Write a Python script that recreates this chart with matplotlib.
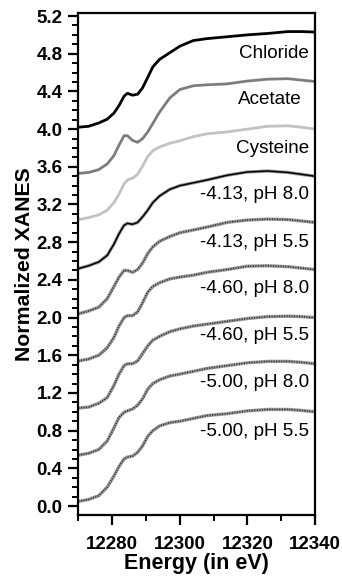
import matplotlib
matplotlib.use("Agg")
import matplotlib.pyplot as plt
from matplotlib.ticker import MultipleLocator

plt.rcParams["font.family"] = ["Liberation Sans", "DejaVu Sans"]

# Energia (eV) comun a todos los espectros
energia = [12270, 12273, 12276, 12278.5, 12280.5, 12282, 12283.5, 12284.5,
           12286, 12287.5, 12289, 12290.5, 12292, 12294, 12297, 12300,
           12304, 12308, 12314, 12320, 12326, 12332, 12336, 12340]

# Referencias (XANES normalizado, desplazado verticalmente)
chloride = [4.02, 4.03, 4.065, 4.105, 4.17, 4.25, 4.35, 4.38,
            4.36, 4.37, 4.44, 4.55, 4.66, 4.74, 4.81, 4.88,
            4.94, 4.96, 4.98, 5.00, 5.015, 5.035, 5.035, 5.03]
acetate = [3.53, 3.54, 3.57, 3.63, 3.72, 3.83, 3.93, 3.93,
           3.88, 3.86, 3.90, 3.97, 4.06, 4.18, 4.33, 4.42,
           4.46, 4.47, 4.48, 4.51, 4.53, 4.535, 4.52, 4.505]
cysteine = [3.04, 3.06, 3.09, 3.14, 3.22, 3.31, 3.42, 3.46,
            3.48, 3.52, 3.61, 3.71, 3.77, 3.81, 3.85, 3.875,
            3.92, 3.95, 3.97, 4.00, 4.03, 4.035, 4.02, 4.00]

# Muestras
m413_ph80 = [2.52, 2.55, 2.59, 2.66, 2.78, 2.89, 2.98, 3.00,
             2.99, 3.01, 3.07, 3.14, 3.22, 3.29, 3.36, 3.40,
             3.43, 3.46, 3.51, 3.545, 3.555, 3.54, 3.52, 3.50]
m413_ph55 = [2.04, 2.07, 2.11, 2.20, 2.33, 2.43, 2.50, 2.50,
             2.48, 2.51, 2.58, 2.68, 2.75, 2.81, 2.86, 2.90,
             2.93, 2.96, 3.01, 3.035, 3.045, 3.04, 3.025, 3.01]
m460_ph80 = [1.54, 1.56, 1.60, 1.68, 1.79, 1.91, 2.00, 2.02,
             2.02, 2.06, 2.16, 2.27, 2.33, 2.37, 2.41, 2.43,
             2.45, 2.48, 2.51, 2.545, 2.55, 2.54, 2.525, 2.51]
m460_ph55 = [1.04, 1.05, 1.09, 1.15, 1.28, 1.40, 1.49, 1.51,
             1.51, 1.54, 1.62, 1.70, 1.76, 1.80, 1.85, 1.88,
             1.91, 1.93, 1.96, 1.99, 2.01, 2.015, 2.01, 2.00]
m500_ph80 = [0.54, 0.56, 0.60, 0.69, 0.83, 0.94, 0.995, 1.01,
             1.03, 1.07, 1.14, 1.24, 1.30, 1.34, 1.38, 1.40,
             1.43, 1.46, 1.49, 1.52, 1.535, 1.535, 1.525, 1.51]
m500_ph55 = [0.05, 0.07, 0.11, 0.20, 0.32, 0.42, 0.50, 0.52,
             0.53, 0.57, 0.64, 0.74, 0.80, 0.85, 0.885, 0.90,
             0.93, 0.96, 0.98, 1.01, 1.025, 1.025, 1.015, 1.00]

referencias = {
    "Chloride": (chloride, "#000000"),
    "Acetate": (acetate, "#7d7d7d"),
    "Cysteine": (cysteine, "#c2c2c2"),
}
muestras = {
    "-4.13, pH 8.0": m413_ph80,
    "-4.13, pH 5.5": m413_ph55,
    "-4.60, pH 8.0": m460_ph80,
    "-4.60, pH 5.5": m460_ph55,
    "-5.00, pH 8.0": m500_ph80,
    "-5.00, pH 5.5": m500_ph55,
}

etiquetas = list(referencias) + list(muestras)
etiqueta_y = [4.80, 4.31, 3.79, 3.31, 2.80, 2.31, 1.815, 1.31, 0.79]

fig = plt.figure(figsize=(3.42, 5.81), dpi=100)
ax = fig.add_axes([0.2295, 0.1136, 0.6915, 0.8645])

for nombre, (valores, color) in referencias.items():
    ax.plot(energia, valores, color=color, lw=2.0, solid_capstyle="butt")

for nombre, valores in muestras.items():
    # datos experimentales: trazo gris con puntos oscuros encima
    ax.plot(energia, valores, color="#9a9a9a", lw=2.4, solid_capstyle="butt")
    ax.plot(energia, valores, color="#2a2a2a", lw=1.2, linestyle=(0, (0.6, 0.9)))
    if nombre == "-4.13, pH 8.0":
        ax.plot(energia, valores, color="#000000", lw=1.0)

for texto, y in zip(etiquetas, etiqueta_y):
    x = 12336.2 if texto == "Acetate" else 12338.2
    ax.text(x, y, texto, ha="right", va="center", fontsize=13.6)

ax.set_xlim(12270, 12340)
ax.set_ylim(-0.095, 5.235)
ax.xaxis.set_major_locator(MultipleLocator(20))
ax.xaxis.set_minor_locator(MultipleLocator(10))
ax.yaxis.set_major_locator(MultipleLocator(0.4))
ax.yaxis.set_minor_locator(MultipleLocator(0.1))
ax.yaxis.set_major_formatter(matplotlib.ticker.FormatStrFormatter("%.1f"))

for spine in ax.spines.values():
    spine.set_linewidth(1.6)
ax.tick_params(which="major", direction="out", length=7.5, width=1.6,
               labelsize=13.5)
ax.tick_params(axis="x", which="major", pad=7.5)
ax.tick_params(axis="y", which="major", pad=4)
ax.tick_params(which="minor", direction="out", length=4.5, width=1.4)
for lbl in ax.get_xticklabels() + ax.get_yticklabels():
    lbl.set_fontweight("bold")

ax.set_xlabel("Energy (in eV)", fontsize=15.5, fontweight="bold", labelpad=0)
ax.set_ylabel("Normalized XANES", fontsize=15.3, fontweight="bold", labelpad=2)

fig.savefig("out.png", dpi=100)
